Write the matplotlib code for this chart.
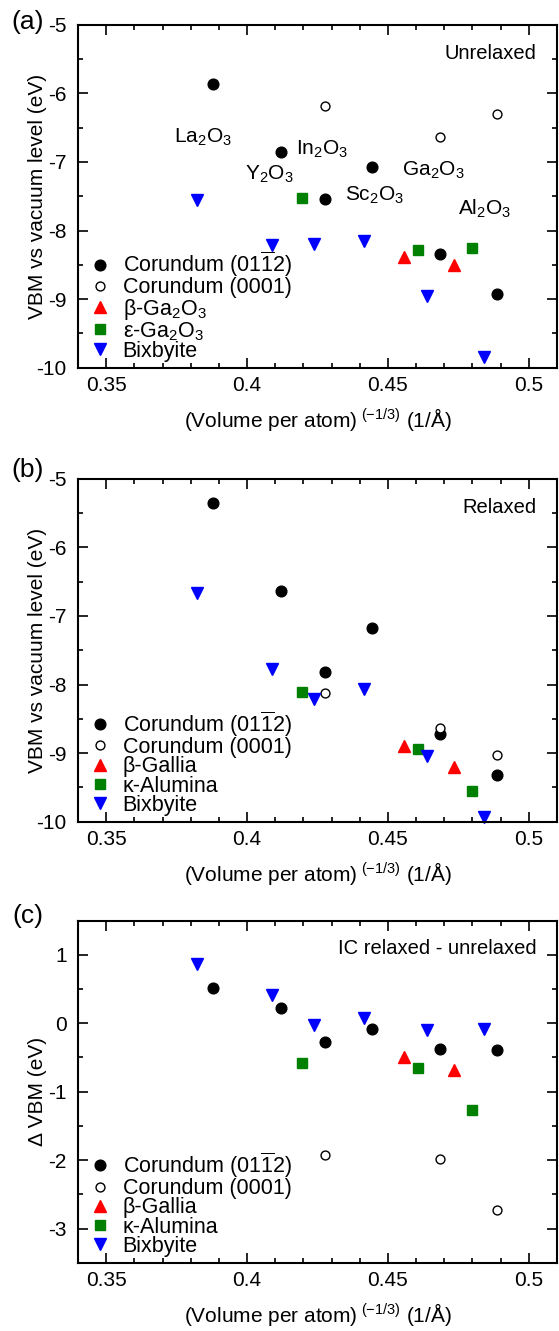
import matplotlib
matplotlib.use("Agg")
import matplotlib.pyplot as plt

plt.rcParams["font.family"] = ["Liberation Sans", "DejaVu Sans"]
plt.rcParams["mathtext.fontset"] = "custom"
plt.rcParams["mathtext.rm"] = "Liberation Sans"
plt.rcParams["mathtext.it"] = "Liberation Sans:italic"
plt.rcParams["mathtext.bf"] = "Liberation Sans:bold"
plt.rcParams["mathtext.default"] = "regular"
plt.rcParams["axes.unicode_minus"] = False

# -------------------------
# DATA
# -------------------------
x_cor = [0.3879, 0.4122, 0.4275, 0.4442, 0.4684, 0.4887]
x_cor0001 = [0.4275, 0.4684, 0.4887]
x_beta = [0.4557, 0.4736]
x_eps = [0.4195, 0.4605, 0.4799]
x_bix = [0.3822, 0.4089, 0.4237, 0.4416, 0.4637, 0.4840]

# (a) unrelaxed
a_cor = [-5.86, -6.85, -7.54, -7.08, -8.34, -8.93]
a_cor0001 = [-6.19, -6.64, -6.30]
a_beta = [-8.39, -8.51]
a_eps = [-7.52, -8.28, -8.26]
a_bix = [-7.55, -8.21, -8.19, -8.15, -8.95, -9.85]

# (b) relaxed
b_cor = [-5.35, -6.63, -7.82, -7.17, -8.72, -9.32]
b_cor0001 = [-8.12, -8.63, -9.03]
b_beta = [-8.89, -9.20]
b_kap = [-8.11, -8.94, -9.55]
b_bix = [-6.67, -7.78, -8.21, -8.06, -9.04, -9.93]

# (c) relaxed - unrelaxed
c_cor = [0.51, 0.23, -0.28, -0.08, -0.37, -0.39]
c_cor0001 = [-1.92, -1.99, -2.73]
c_beta = [-0.49, -0.68]
c_kap = [-0.58, -0.65, -1.27]
c_bix = [0.87, 0.41, -0.03, 0.08, -0.10, -0.09]

oxide_names = ["La$_2$O$_3$", "Y$_2$O$_3$", "In$_2$O$_3$", "Sc$_2$O$_3$", "Ga$_2$O$_3$", "Al$_2$O$_3$"]
oxide_x = [0.3845, 0.4080, 0.4267, 0.4451, 0.4660, 0.4844]
oxide_y = [-6.64, -7.18, -6.82, -7.49, -7.125, -7.68]

FS = 15
LEG_FS = 15.5
xlabel = "(Volume per atom)$^{\\ (-1/3)}$ (1/Å)"


def draw_panel(ax, ycor, ycor0001, ybeta, ygreen, ybix, labels, ylim, ylabel, note):
    ax.plot(x_cor, ycor, "o", color="black", ms=7.7, ls="none", label=labels[0], clip_on=False)
    ax.plot(x_cor0001, ycor0001, "o", mfc="white", mec="black", mew=1.0, ms=6.4, ls="none",
            label=labels[1], clip_on=False)
    ax.plot(x_beta, ybeta, "^", color="#ff0000", ms=9, ls="none", label=labels[2], clip_on=False)
    ax.plot(x_eps, ygreen, "s", color="#008000", ms=7, ls="none", label=labels[3], clip_on=False)
    ax.plot(x_bix, ybix, "v", color="#0000ff", ms=9, ls="none", label=labels[4], clip_on=False)

    ax.set_xlim(0.34, 0.51)
    ax.set_ylim(*ylim)
    ax.set_xticks([0.35, 0.4, 0.45, 0.5])
    ax.set_xticklabels(["0.35", "0.4", "0.45", "0.5"])
    ax.set_xticks([0.34 + 0.01 * i for i in range(18)], minor=True)
    ax.tick_params(which="both", direction="in", top=True, right=True, width=1.2,
                   labelsize=FS)
    ax.tick_params(which="major", length=7)
    ax.tick_params(which="minor", length=3.5)
    ax.tick_params(axis="y", pad=8)
    ax.tick_params(axis="x", pad=6)
    for s in ax.spines.values():
        s.set_linewidth(1.5)

    ax.set_xlabel(xlabel, fontsize=FS, labelpad=8)
    ax.set_ylabel(ylabel, fontsize=15)
    ax.yaxis.set_label_coords(-0.064, 0.5)
    ax.text(0.958, 0.945, note, transform=ax.transAxes, ha="right", va="top", fontsize=14.5)

    ax.legend(loc="lower left", bbox_to_anchor=(0.0234, 0.017), frameon=False, fontsize=LEG_FS,
              borderpad=0, borderaxespad=0, labelspacing=-0.08, handlelength=1.0,
              handletextpad=0.55)


fig = plt.figure(figsize=(5.59, 13.31), dpi=100)
ax_a = fig.add_axes([0.1395, 0.7238, 0.8569, 0.2575])
ax_b = fig.add_axes([0.1395, 0.3827, 0.8569, 0.2575])
ax_c = fig.add_axes([0.1395, 0.0513, 0.8569, 0.2570])

cor_label = "Corundum (01$\\overline{1}$2)"

draw_panel(ax_a, a_cor, a_cor0001, a_beta, a_eps, a_bix,
           [cor_label, "Corundum (0001)", "β-Ga$_2$O$_3$", "ε-Ga$_2$O$_3$", "Bixbyite"],
           (-10, -5), "VBM vs vacuum level (eV)", "Unrelaxed")
ax_a.set_yticks([-10, -9, -8, -7, -6, -5])
ax_a.set_yticks([-10 + 0.5 * i for i in range(11)], minor=True)
for name, tx, ty in zip(oxide_names, oxide_x, oxide_y):
    ax_a.text(tx, ty, name, ha="center", va="center", fontsize=FS)

draw_panel(ax_b, b_cor, b_cor0001, b_beta, b_kap, b_bix,
           [cor_label, "Corundum (0001)", "β-Gallia", "κ-Alumina", "Bixbyite"],
           (-10, -5), "VBM vs vacuum level (eV)", "Relaxed")
ax_b.set_yticks([-10, -9, -8, -7, -6, -5])
ax_b.set_yticks([-10 + 0.5 * i for i in range(11)], minor=True)

draw_panel(ax_c, c_cor, c_cor0001, c_beta, c_kap, c_bix,
           [cor_label, "Corundum (0001)", "β-Gallia", "κ-Alumina", "Bixbyite"],
           (-3.5, 1.5), "Δ VBM (eV)", "IC relaxed - unrelaxed")
ax_c.set_yticks([-3, -2, -1, 0, 1])
ax_c.set_yticks([-3.5 + 0.5 * i for i in range(11)], minor=True)

# panel letters
fig.text(27.5 / 559, 1 - 21.5 / 1331, "(a)", fontsize=19, ha="center", va="center")
fig.text(27.5 / 559, 1 - 470 / 1331, "(b)", fontsize=19, ha="center", va="center")
fig.text(27.5 / 559, 1 - 916.5 / 1331, "(c)", fontsize=19, ha="center", va="center")

fig.savefig("out.png", dpi=100)
